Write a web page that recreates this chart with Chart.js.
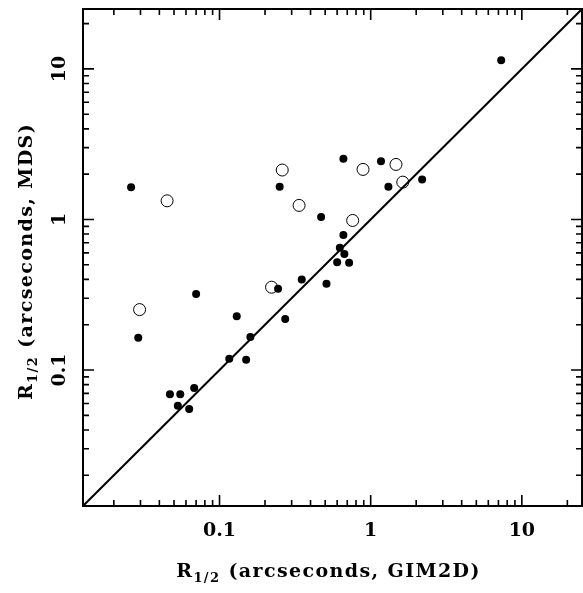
<!DOCTYPE html>
<html>
<head>
<meta charset="utf-8">
<script src="https://cdn.jsdelivr.net/npm/chart.js@4/dist/chart.umd.min.js"></script>
<style>
  html, body { margin: 0; padding: 0; background: #fff; }
  #wrap { width: 583px; height: 593px; }
</style>
</head>
<body>
<div id="wrap"><canvas id="grafik"></canvas></div>
<script>
// filled dots: R1/2 from GIM2D (x) vs MDS (y)
const doluX = [0.026, 0.07, 0.13, 0.029, 0.16, 0.116, 0.15, 0.047, 0.055, 0.068, 0.053, 0.063,
               0.66, 1.17, 0.25, 1.31, 2.19, 0.47, 0.66, 0.625, 0.67, 0.6, 0.72, 0.35, 0.51, 0.244, 0.272, 7.3];
const doluY = [1.64, 0.32, 0.228, 0.164, 0.166, 0.119, 0.117, 0.069, 0.069, 0.076, 0.058, 0.055,
               2.53, 2.44, 1.65, 1.65, 1.84, 1.04, 0.79, 0.65, 0.59, 0.52, 0.515, 0.40, 0.374, 0.346, 0.218, 11.4];
// open circles
const bosX = [0.045, 0.0296, 0.26, 0.89, 1.47, 1.63, 0.336, 0.76, 0.221];
const bosY = [1.33, 0.252, 2.13, 2.15, 2.32, 1.77, 1.24, 0.985, 0.355];

// axis range and y = x line
const eksenMin = 0.0125;
const eksenMax = 25;
const cizgiXY = [0.0125, 25];

const anaTikler = [0.1, 1, 10];
const araTikler = [0.02, 0.03, 0.04, 0.05, 0.06, 0.07, 0.08, 0.09,
                   0.2, 0.3, 0.4, 0.5, 0.6, 0.7, 0.8, 0.9,
                   2, 3, 4, 5, 6, 7, 8, 9, 20];

const baslikX = ["R", "1/2", " (arcseconds, GIM2D)"];
const baslikY = ["R", "1/2", " (arcseconds, MDS)"];

const yazi = "'DejaVu Serif', serif";

function noktalar(xs, ys) {
  return xs.map((x, i) => ({ x: x, y: ys[i] }));
}

// title with subscript, drawn on canvas
function altIndisliYaz(ctx, parcalar, cx, cy) {
  const buyuk = "bold 19px " + yazi;
  const kucuk = "bold 13px " + yazi;
  ctx.letterSpacing = "1.4px";
  ctx.font = buyuk;
  const w0 = ctx.measureText(parcalar[0]).width;
  const w2 = ctx.measureText(parcalar[2]).width;
  ctx.font = kucuk;
  const w1 = ctx.measureText(parcalar[1]).width;
  let x = cx - (w0 + w1 + w2) / 2;
  ctx.textAlign = "left";
  ctx.textBaseline = "alphabetic";
  ctx.font = buyuk;
  ctx.fillText(parcalar[0], x, cy);
  x += w0;
  ctx.font = kucuk;
  ctx.fillText(parcalar[1], x, cy + 5);
  x += w1;
  ctx.font = buyuk;
  ctx.fillText(parcalar[2], x, cy);
  ctx.letterSpacing = "0px";
}

const cerceveEklentisi = {
  id: "cerceve",
  afterDatasetsDraw(chart) {
    const ctx = chart.ctx;
    const a = chart.chartArea;
    const sx = chart.scales.x;
    const sy = chart.scales.y;
    ctx.save();
    ctx.strokeStyle = "#000";
    ctx.lineWidth = 2;
    ctx.strokeRect(a.left, a.top, a.right - a.left, a.bottom - a.top);

    ctx.lineWidth = 1.6;
    ctx.beginPath();
    const tik = (v, uz) => {
      const px = sx.getPixelForValue(v);
      ctx.moveTo(px, a.bottom); ctx.lineTo(px, a.bottom - uz);
      ctx.moveTo(px, a.top); ctx.lineTo(px, a.top + uz);
      const py = sy.getPixelForValue(v);
      ctx.moveTo(a.left, py); ctx.lineTo(a.left + uz, py);
      ctx.moveTo(a.right, py); ctx.lineTo(a.right - uz, py);
    };
    araTikler.forEach(v => tik(v, 6));
    anaTikler.forEach(v => tik(v, 11));
    ctx.stroke();

    ctx.fillStyle = "#000";
    altIndisliYaz(ctx, baslikX, (a.left + a.right) / 2 - 4, 577);
    ctx.translate(32, (a.top + a.bottom) / 2 + 4);
    ctx.rotate(-Math.PI / 2);
    altIndisliYaz(ctx, baslikY, 0, 0);
    ctx.restore();
  }
};

// no extra padding for label overhang
function dolguSifirla(s) {
  s.paddingTop = 0; s.paddingBottom = 0; s.paddingLeft = 0; s.paddingRight = 0;
}

new Chart(document.getElementById("grafik"), {
  type: "scatter",
  data: {
    datasets: [
      {
        label: "dolu",
        data: noktalar(doluX, doluY),
        pointRadius: 4,
        pointBackgroundColor: "#000",
        pointBorderColor: "#000",
        pointBorderWidth: 0,
        order: 1
      },
      {
        label: "bos",
        data: noktalar(bosX, bosY),
        pointRadius: 6,
        pointBackgroundColor: "rgba(0,0,0,0)",
        pointBorderColor: "#000",
        pointBorderWidth: 1,
        order: 2
      },
      {
        label: "x=y",
        type: "line",
        data: noktalar(cizgiXY, cizgiXY),
        borderColor: "#000",
        borderWidth: 2,
        pointRadius: 0,
        fill: false,
        order: 3
      }
    ]
  },
  options: {
    responsive: true,
    maintainAspectRatio: false,
    animation: false,
    layout: { autoPadding: false, padding: { top: 9, right: 1, left: 0, bottom: 0 } },
    plugins: {
      legend: { display: false },
      tooltip: { enabled: false }
    },
    scales: {
      x: {
        type: "logarithmic",
        position: "bottom",
        min: eksenMin,
        max: eksenMax,
        grid: { display: false },
        border: { display: false },
        afterBuildTicks: s => { s.ticks = anaTikler.map(v => ({ value: v })); },
        afterFit: s => { s.height = 87; dolguSifirla(s); },
        ticks: {
          autoSkip: false,
          maxRotation: 0,
          padding: 6,
          color: "#000",
          font: { family: yazi, size: 19, weight: "bold" },
          callback: v => String(v)
        }
      },
      y: {
        type: "logarithmic",
        position: "left",
        min: eksenMin,
        max: eksenMax,
        grid: { display: false },
        border: { display: false },
        afterBuildTicks: s => { s.ticks = anaTikler.map(v => ({ value: v })); },
        afterFit: s => { s.width = 83; dolguSifirla(s); },
        ticks: {
          autoSkip: false,
          minRotation: 90,
          maxRotation: 90,
          crossAlign: "center",
          padding: -2,
          color: "#000",
          font: { family: yazi, size: 19, weight: "bold" },
          callback: v => String(v)
        }
      }
    }
  },
  plugins: [cerceveEklentisi]
});
</script>
</body>
</html>
